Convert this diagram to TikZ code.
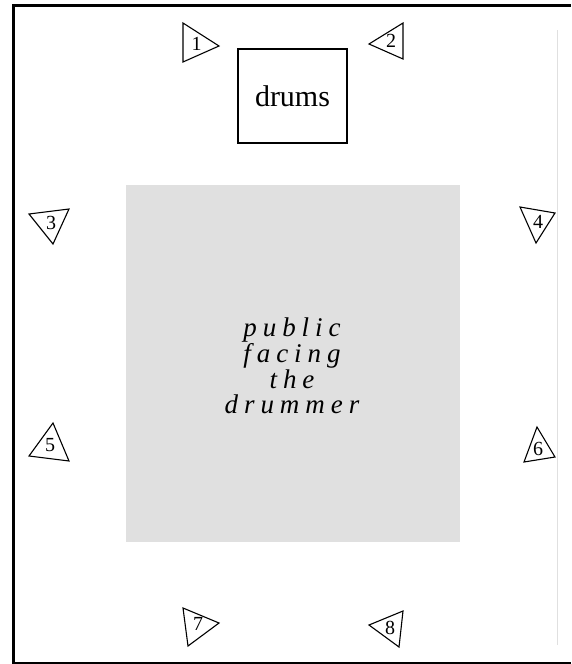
\documentclass[tikz,border=0pt]{standalone}
\usepackage{fontspec}
\setmainfont{Liberation Serif}
\definecolor{publicgray}{RGB}{224,224,224}
\tikzset{
  speaker/.style={draw=black, line width=1.1pt, line join=miter},
  spklabel/.style={font=\fontsize{20}{20}\selectfont, inner sep=0pt},
  frameline/.style={draw=black, line width=3.5pt},
}
\begin{document}
\begin{tikzpicture}[x=1pt,y=-1pt]
\useasboundingbox (0,0) rectangle (571,664);
% frame
\draw[frameline] (13.5,5.5) -- (13.5,664);
\draw[frameline] (12,5.5) -- (571,5.5);
\draw[draw=black, line width=2pt] (12,662.5) -- (571,662.5);
\draw[draw=black!12, line width=0.6pt] (557.5,30) -- (557.5,645);
% audience area
\node[fill=publicgray, minimum width=334pt, minimum height=357pt, inner sep=0pt, anchor=north west] (public) at (126,185) {};
\node[align=center, inner sep=0pt, font=\fontsize{27}{25.8}\selectfont\itshape\addfontfeature{LetterSpace=22}] (publictext) at (292,366)
  {public\\facing\\the\\drummer};
% drums
\node[draw=black, line width=1.4pt, minimum width=109pt, minimum height=94pt, inner sep=0pt,
  font=\fontsize{30}{30}\selectfont] (drums) at (292.5,96) {drums};
% speakers
\draw[speaker] (183,23) -- (219,46) -- (183,62) -- cycle;
\node[spklabel] (s1) at (196.5,44) {1};
\draw[speaker] (403,23) -- (369,44) -- (403,59) -- cycle;
\node[spklabel] (s2) at (391,41) {2};
\draw[speaker] (29,214) -- (69,209) -- (53,244) -- cycle;
\node[spklabel] (s3) at (51,223) {3};
\draw[speaker] (520,207) -- (555,213) -- (536,243) -- cycle;
\node[spklabel] (s4) at (538,222) {4};
\draw[speaker] (53,423) -- (69,461) -- (29,456) -- cycle;
\node[spklabel] (s5) at (50,445) {5};
\draw[speaker] (537,427) -- (555,457) -- (524,462) -- cycle;
\node[spklabel] (s6) at (538,449) {6};
\draw[speaker] (183,608) -- (219,623) -- (188,646) -- cycle;
\node[spklabel] (s7) at (198,624) {7};
\draw[speaker] (403,611) -- (369,625) -- (399,647) -- cycle;
\node[spklabel] (s8) at (390,628) {8};
\end{tikzpicture}
\end{document}
